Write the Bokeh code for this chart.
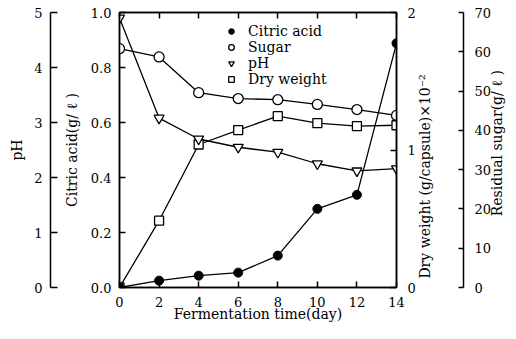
import math
from bokeh.plotting import figure
from bokeh.layouts import row
from bokeh.models import Range1d, LinearAxis, FixedTicker, Legend, LegendItem, ColumnDataSource
from bokeh.embed import file_html
from bokeh.resources import INLINE

# ---- data ----
days = [0, 2, 4, 6, 8, 10, 12, 14]
citric = [0.0, 0.025, 0.043, 0.054, 0.116, 0.286, 0.337, 0.888]
sugar = [60.8, 58.7, 49.6, 48.1, 47.8, 46.6, 45.3, 43.8]
ph = [4.9, 3.08, 2.70, 2.55, 2.46, 2.25, 2.12, 2.16]
dry = [0.0, 0.486, 1.04, 1.145, 1.246, 1.196, 1.174, 1.18]

x_ticks = [0, 2, 4, 6, 8, 10, 12, 14]
x_labels = ["0", "2", "4", "6", "8", "10", "12", "14"]
citric_ticks = [0, 0.2, 0.4, 0.6, 0.8, 1.0]
citric_labels = ["0.0", "0.2", "0.4", "0.6", "0.8", "1.0"]
ph_ticks = [0, 1, 2, 3, 4, 5]
ph_labels = ["0", "1", "2", "3", "4", "5"]
dry_ticks = [0, 1, 2]
dry_labels = ["0", "1", "2"]
sugar_ticks = [0, 10, 20, 30, 40, 50, 60, 70]
sugar_labels = ["0", "10", "20", "30", "40", "50", "60", "70"]

series_names = ["Citric acid", "Sugar", "pH", "Dry weight"]
x_title = "Fermentation time(day)"
citric_title = "Citric acid(g/ ℓ )"
ph_title = "pH"
dry_title = "Dry weight (g/capsule)×10⁻²"
sugar_title = "Residual sugar(g/ ℓ )"

FONT = "DejaVu Serif"
H = 339
TOP, BOTTOM = 12, 52


def style(ax, ticks, labels, tick_in, tick_out, lstand, title, tstand):
    ax.ticker = FixedTicker(ticks=ticks)
    ax.major_label_overrides = {t: l for t, l in zip(ticks, labels)}
    ax.minor_tick_line_color = None
    ax.major_tick_in = tick_in
    ax.major_tick_out = tick_out
    ax.major_tick_line_color = "black"
    ax.major_tick_line_width = 1.5
    ax.axis_line_color = "black"
    ax.axis_line_width = 1.5
    ax.major_label_standoff = lstand
    ax.major_label_text_font = FONT
    ax.major_label_text_font_size = "13px"
    ax.major_label_text_color = "black"
    ax.axis_label = title
    ax.axis_label_standoff = tstand
    ax.axis_label_text_font = FONT
    ax.axis_label_text_font_size = "14px"
    ax.axis_label_text_font_style = "normal"
    ax.axis_label_text_color = "black"


def side_fig(width, y_range, side, border_out):
    kw = dict(width=width, height=H, x_range=Range1d(0, 1), y_range=y_range,
              output_backend="svg", toolbar_location=None, x_axis_location=None,
              y_axis_location=side, min_border_top=TOP, min_border_bottom=BOTTOM)
    if side == "left":
        kw.update(min_border_left=border_out, min_border_right=0)
    else:
        kw.update(min_border_left=0, min_border_right=border_out)
    f = figure(**kw)
    f.grid.visible = False
    f.outline_line_color = None
    f.background_fill_color = "white"
    f.border_fill_color = "white"
    return f


# ---- left: pH axis ----
fl = side_fig(60, Range1d(0, 5), "left", 50)
style(fl.yaxis[0], ph_ticks, ph_labels, 7, 0, 8, ph_title, 6)

# ---- right: residual sugar axis ----
fr = side_fig(73, Range1d(0, 70), "right", 49)
style(fr.yaxis[0], sugar_ticks, sugar_labels, 5, 0, 11, sugar_title, 3)

# ---- main plot ----
p = figure(width=383, height=H, x_range=Range1d(0, 14), y_range=Range1d(0, 1),
           output_backend="svg", toolbar_location=None,
           min_border_left=58, min_border_right=43, min_border_top=TOP, min_border_bottom=BOTTOM)
p.extra_y_ranges = {"dry": Range1d(0, 2)}
p.grid.visible = False
p.outline_line_color = "black"
p.outline_line_width = 1.5
p.background_fill_color = "white"
p.border_fill_color = "white"

style(p.xaxis[0], x_ticks, x_labels, 6, 0, 9, x_title, -4)
style(p.yaxis[0], citric_ticks, citric_labels, 6, 0, 8, citric_title, 8)

dry_axis = LinearAxis(y_range_name="dry")
style(dry_axis, dry_ticks, dry_labels, 6, 0, 11, dry_title, 6)
p.add_layout(dry_axis, "right")

top_axis = LinearAxis()
style(top_axis, x_ticks, x_labels, 6, 0, 0, None, 0)
top_axis.major_label_text_color = None
top_axis.major_label_text_font_size = "0px"
p.add_layout(top_axis, "above")

# right-hand titles read bottom-to-top as in the original
try:
    for ax in (dry_axis, fr.yaxis[0]):
        ax.axis_label_align = "start"
        ax.axis_label_orientation = math.pi / 2
    dry_axis.axis_label = "\u00a0\u00a0" + dry_title
    fr.yaxis[0].axis_label = "\u00a0" * 16 + sugar_title
except Exception:
    pass

p.extra_y_ranges["sugar"] = fr.y_range
p.extra_y_ranges["ph"] = fl.y_range

src = ColumnDataSource(dict(day=days, citric=citric, sugar=sugar, ph=ph, dry=dry))

LW = 1.3
p.line("day", "sugar", source=src, y_range_name="sugar", line_color="black", line_width=LW)
p.line("day", "ph", source=src, y_range_name="ph", line_color="black", line_width=LW)
p.line("day", "dry", source=src, y_range_name="dry", line_color="black", line_width=LW)
p.line("day", "citric", source=src, line_color="black", line_width=LW)

r_dry = p.scatter("day", "dry", source=src, y_range_name="dry", marker="square", size=9,
                  fill_color="white", line_color="black", line_width=1.3)
r_ph = p.scatter("day", "ph", source=src, y_range_name="ph", marker="inverted_triangle", size=10,
                 fill_color="white", line_color="black", line_width=1.3)
r_sugar = p.scatter("day", "sugar", source=src, y_range_name="sugar", marker="circle", size=10,
                    fill_color="white", line_color="black", line_width=1.3)
r_cit = p.scatter("day", "citric", source=src, marker="circle", size=9,
                  fill_color="black", line_color="black", line_width=1)

legend = Legend(items=[LegendItem(label=series_names[0], renderers=[r_cit]),
                       LegendItem(label=series_names[1], renderers=[r_sugar]),
                       LegendItem(label=series_names[2], renderers=[r_ph]),
                       LegendItem(label=series_names[3], renderers=[r_dry])],
                location=(105, 200))
legend.border_line_color = None
legend.background_fill_alpha = 0
legend.padding = 0
legend.margin = 0
legend.spacing = -1
legend.glyph_width = 14
legend.glyph_height = 14
legend.label_height = 14
legend.label_standoff = 10
legend.label_text_font = FONT
legend.label_text_font_size = "14px"
legend.label_text_color = "black"
legend.label_text_baseline = "middle"
p.add_layout(legend, "center")

layout = row(fl, p, fr, spacing=0)
open("out.html", "w").write(file_html(layout, INLINE))
